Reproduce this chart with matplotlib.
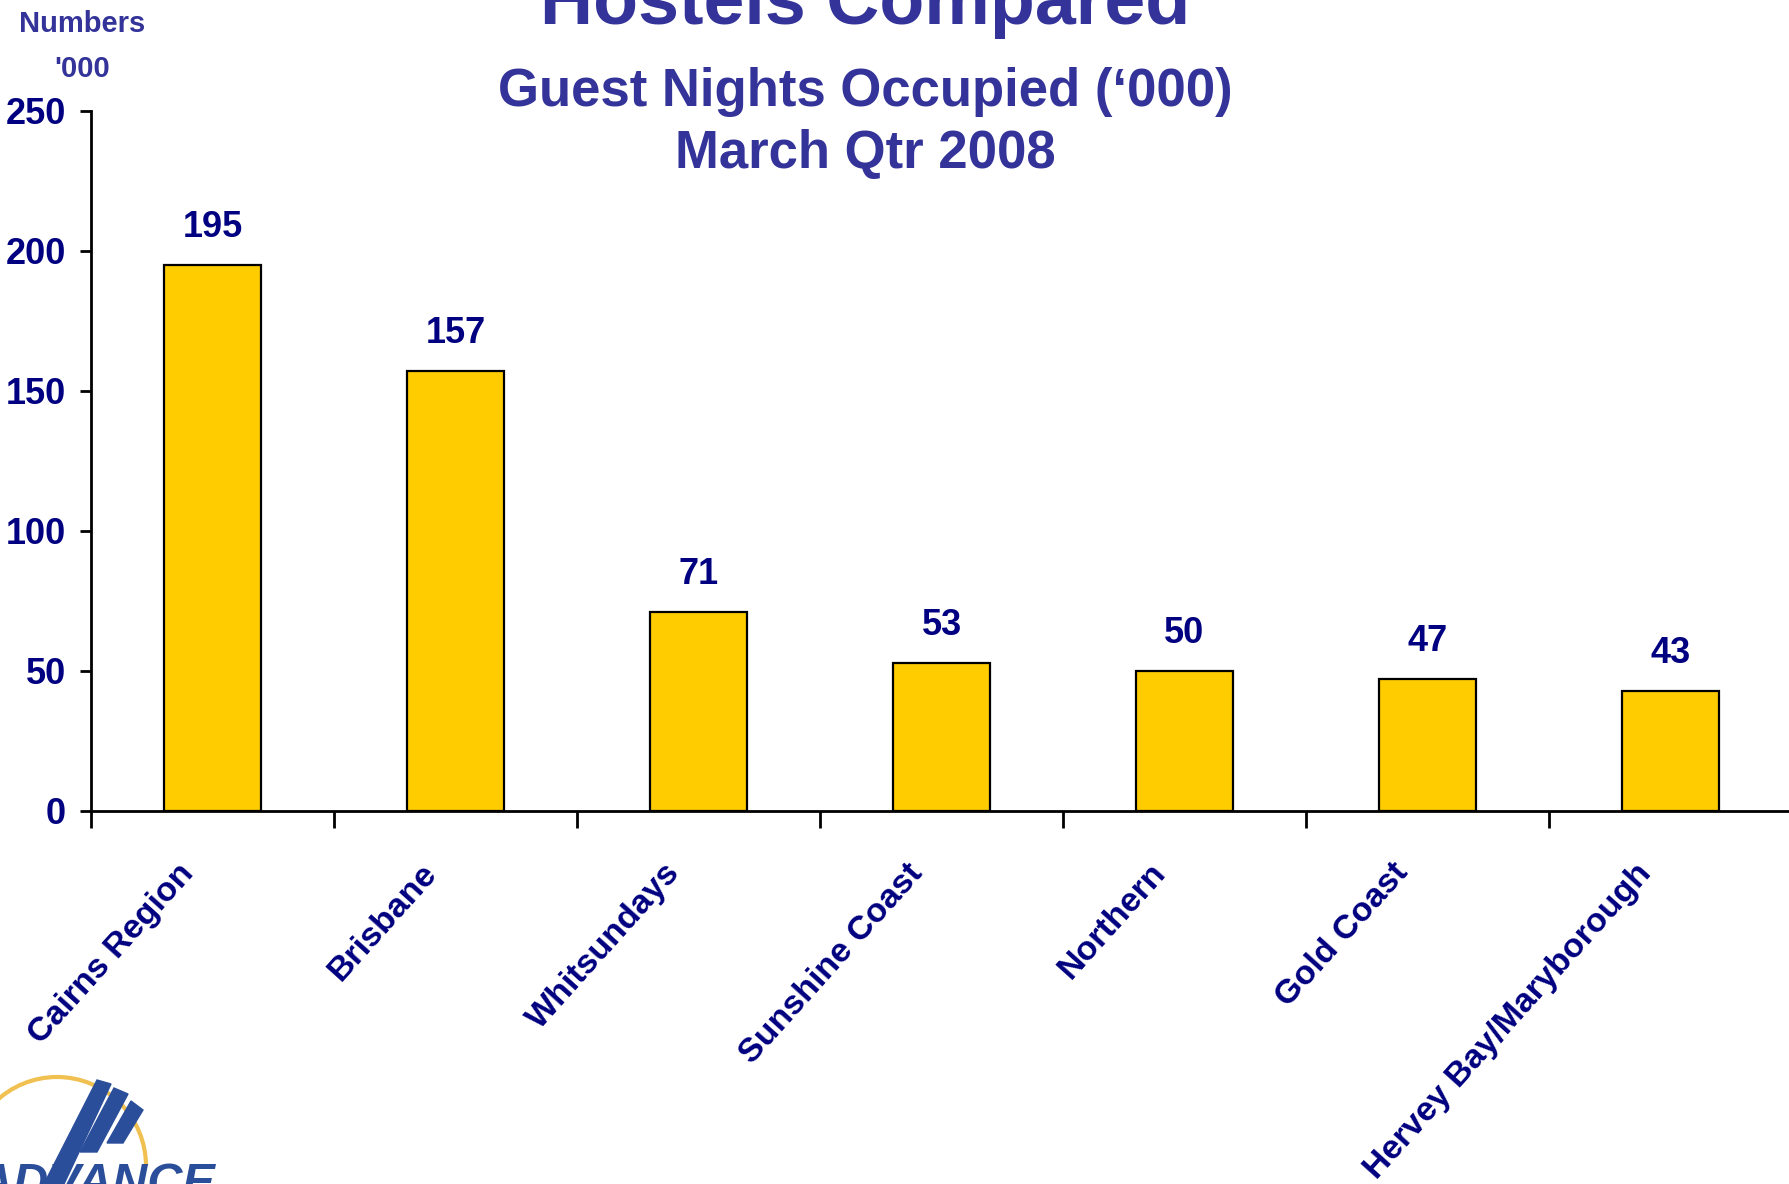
import matplotlib
matplotlib.use("Agg")
import matplotlib.pyplot as plt
from matplotlib.patches import Arc, Polygon

categories = ["Cairns Region", "Brisbane", "Whitsundays", "Sunshine Coast",
              "Northern", "Gold Coast", "Hervey Bay/Maryborough"]
values = [195, 157, 71, 53, 50, 47, 43]
yticks = [0, 50, 100, 150, 200, 250]

W, H = 1789, 1184
DPI = 100
plt.rcParams['font.family'] = ['Liberation Sans', 'DejaVu Sans']
fig = plt.figure(figsize=(W / DPI, H / DPI), dpi=DPI)

TITLE_C = '#333399'
NAVY = '#000080'
BAR_C = '#FFCC00'

def fy(ypx):
    return 1 - ypx / H

def fx(xpx):
    return xpx / W

# axes in pixel layout
ax_left, ax_right, ax_top, ax_bot = 91, 1792, 111, 811
ax = fig.add_axes([fx(ax_left), fy(ax_bot), (ax_right - ax_left) / W, (ax_bot - ax_top) / H])
n = len(categories)
x = list(range(n))
ax.bar(x, values, width=0.4, color=BAR_C, edgecolor='black', linewidth=1.6, zorder=3)
ax.set_xlim(-0.5, n - 0.5)
ax.set_ylim(0, 250)
for s in ['top', 'right']:
    ax.spines[s].set_visible(False)
for s in ['left', 'bottom']:
    ax.spines[s].set_linewidth(2)
ax.set_yticks(yticks)
ax.set_yticklabels([str(t) for t in yticks], fontsize=26, fontweight='bold', color=NAVY)
ax.tick_params(axis='y', length=8, width=2, pad=10)
ax.set_xticks([i - 0.5 for i in range(n)])
ax.set_xticklabels([])
ax.tick_params(axis='x', length=12, width=2, direction='out')

for i, v in enumerate(values):
    ax.annotate(str(v), xy=(i, v), xytext=(0, 20), textcoords='offset pixels',
                ha='center', va='bottom', fontsize=26, fontweight='bold', color=NAVY)

for i, c in enumerate(categories):
    ax.annotate(c, xy=(i, 0), xycoords=('data', 'axes fraction'),
                xytext=(-24, -57), textcoords='offset pixels',
                ha='right', va='center', rotation=48, rotation_mode='anchor',
                fontsize=24.5, fontweight='bold', color=NAVY, annotation_clip=False)

# titles
fig.text(fx(758 * W / 1568), fy(24), 'Hostels Compared', ha='center', va='baseline',
         fontsize=53, fontweight='bold', color=TITLE_C)
fig.text(fx(865), fy(106), "Guest Nights Occupied (\u2018000)", ha='center', va='baseline',
         fontsize=38, fontweight='bold', color=TITLE_C)
fig.text(fx(865), fy(168), "March Qtr 2008", ha='center', va='baseline',
         fontsize=38, fontweight='bold', color=TITLE_C)
fig.text(fx(82), fy(24), "Numbers", ha='center', va='center',
         fontsize=21, fontweight='bold', color=TITLE_C)
fig.text(fx(82), fy(69), "'000", ha='center', va='center',
         fontsize=21, fontweight='bold', color=TITLE_C)

# logo (bottom-left, partially clipped)
lax = fig.add_axes([0, 0, 260 / W, 124 / H])
lax.set_xlim(0, 260)
lax.set_ylim(H, H - 124)
lax.axis('off')
lax.add_patch(Arc((57, 1166), 178, 178, theta1=180, theta2=360, color='#F0C050', lw=3))
logo_c = '#2B4E9B'
stripes = [((97, 1080), (111, 1084), (64, 1184), (44, 1184)),
           ((114, 1088), (128, 1094), (97, 1152), (80, 1152)),
           ((131, 1101), (143, 1110), (123, 1143), (107, 1143))]
for st in stripes:
    lax.add_patch(Polygon(st, closed=True, color=logo_c))
lax.text(-22, 1162, 'ADVANCE', ha='left', va='top', fontsize=35, fontweight='bold',
         style='italic', color=logo_c)

fig.savefig('out.png', dpi=DPI)
